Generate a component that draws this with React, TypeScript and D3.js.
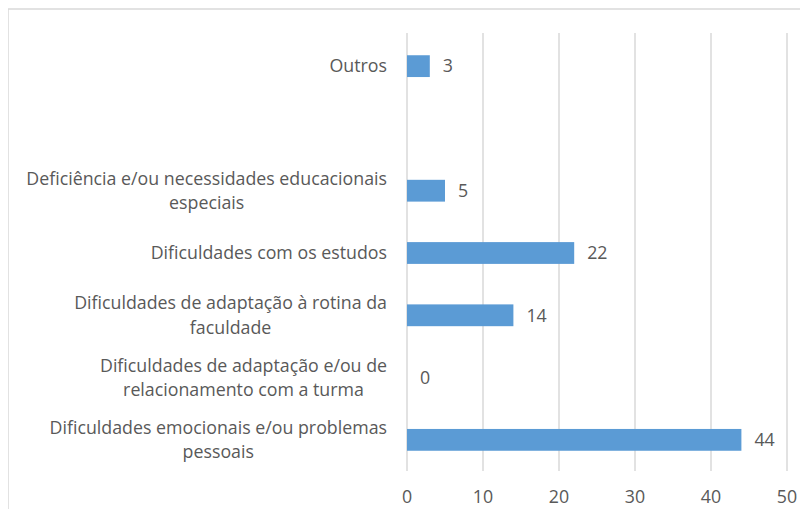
import React, { useEffect, useRef } from "react";
import * as d3 from "d3";

const categories: string[][] = [
  ["Outros"],
  [""],
  ["Deficiência e/ou necessidades educacionais", "especiais"],
  ["Dificuldades com os estudos"],
  ["Dificuldades de adaptação à rotina da", "faculdade"],
  ["Dificuldades de adaptação e/ou de", "relacionamento com a turma"],
  ["Dificuldades emocionais e/ou problemas", "pessoais"],
];
const values: (number | null)[] = [3, null, 5, 22, 14, 0, 44];
const ticks: number[] = [0, 10, 20, 30, 40, 50];

const W = 808;
const H = 517;
const FONT = "'Open Sans', sans-serif";
const FS = 17.8;
const TEXT = "#595959";
const BAR = "#5B9BD5";
const GRID = "#D9D9D9";

export default function App() {
  const ref = useRef<SVGSVGElement>(null);
  useEffect(() => {
    const svg = d3.select(ref.current);
    svg.selectAll("*").remove();

    svg.append("rect").attr("width", W).attr("height", H).attr("fill", "#fff");
    svg.append("rect").attr("x", 8).attr("y", 9).attr("width", W + 20).attr("height", H + 20)
      .attr("fill", "none").attr("stroke", GRID).attr("stroke-width", 1.5);

    const x = d3.scaleLinear().domain([0, 50]).range([407, 787]);
    const keys = categories.map((_, i) => String(i));
    const y = d3.scaleBand().domain(keys).range([35, 471]).paddingInner(0.65).paddingOuter(0.325);

    svg.append("g").selectAll("line").data(ticks).join("line")
      .attr("x1", (d) => x(d)).attr("x2", (d) => x(d))
      .attr("y1", 33).attr("y2", 471)
      .attr("stroke", GRID).attr("stroke-width", 1.5);

    svg.append("g").selectAll("text").data(ticks).join("text")
      .attr("x", (d) => x(d)).attr("y", 497).attr("dy", "0.35em")
      .attr("text-anchor", "middle").attr("font-family", FONT).attr("font-size", FS)
      .attr("fill", TEXT).text((d) => String(d));

    const bars = values.map((v, i) => ({ v, k: keys[i] })).filter((d) => d.v !== null) as { v: number; k: string }[];
    svg.append("g").selectAll("rect").data(bars).join("rect")
      .attr("x", x(0)).attr("y", (d) => y(d.k)!)
      .attr("width", (d) => x(d.v) - x(0)).attr("height", y.bandwidth())
      .attr("fill", BAR);

    svg.append("g").selectAll("text").data(bars).join("text")
      .attr("x", (d) => x(d.v) + 13).attr("y", (d) => y(d.k)! + y.bandwidth() / 2).attr("dy", "0.35em")
      .attr("font-family", FONT).attr("font-size", FS).attr("fill", TEXT)
      .text((d) => String(d.v));

    const lineH = 24.5;
    const labG = svg.append("g");
    categories.forEach((lines, i) => {
      const cy = y(keys[i])! + y.bandwidth() / 2;
      const g = labG.append("g");
      const texts = lines.map((l, j) =>
        g.append("text")
          .attr("y", cy + (j - (lines.length - 1) / 2) * lineH).attr("dy", "0.35em")
          .attr("font-family", FONT).attr("font-size", FS).attr("fill", TEXT)
          .attr("text-anchor", "middle").text(l)
      );
      const widths = texts.map((t) => (t.node() as SVGTextElement).getComputedTextLength());
      const maxW = Math.max(...widths);
      const center = 387 - maxW / 2;
      texts.forEach((t) => t.attr("x", center));
    });
  }, []);
  return <svg ref={ref} width={W} height={H} style={{ display: "block", margin: "-8px" }} />;
}
